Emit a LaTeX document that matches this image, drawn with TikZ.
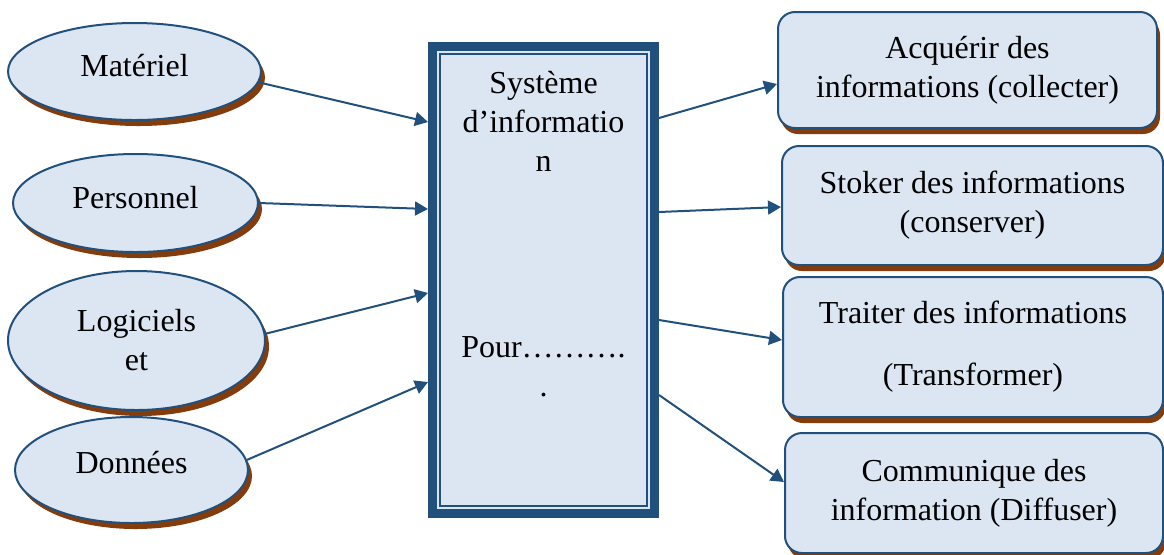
\documentclass[tikz,border=0pt]{standalone}
\usepackage{fontspec}
\setmainfont{Liberation Serif}
\usetikzlibrary{shapes.geometric,shadows,arrows.meta}

\definecolor{sibleu}{RGB}{33,80,125}
\definecolor{sifond}{RGB}{220,230,242}
\definecolor{siombre}{RGB}{132,60,12}

\newcommand{\sitexte}{\fontsize{16pt}{19.5pt}\selectfont}

\begin{document}
\begin{tikzpicture}[x=0.5pt,y=-0.5pt,
		ressource/.style={ellipse,draw=sibleu,line width=1pt,fill=sifond,align=center,font=\sitexte,
			drop shadow={shadow xshift=2pt,shadow yshift=-3pt,fill=siombre,opacity=1}},
		fonction/.style={rectangle,rounded corners=8.5pt,draw=sibleu,line width=1pt,fill=sifond,align=center,font=\sitexte,
			drop shadow={shadow xshift=1.5pt,shadow yshift=-3pt,fill=siombre,opacity=1}},
		fleche/.style={draw=sibleu,line width=1pt,-{Triangle[length=6.5pt,width=7pt]}}]
			
			\useasboundingbox (0,0) rectangle (1164,554);
			
			% les ressources
			\node[ressource,minimum width=126.5pt,minimum height=48.5pt,text depth=6pt] (mat) at (134.5,71.5) {Matériel};
			\node[ressource,minimum width=122.5pt,minimum height=49pt,text depth=6pt] (per) at (135.5,203) {Personnel};
			\node[ressource,minimum width=128.5pt,minimum height=69.5pt] (log) at (136.5,340.5) {Logiciels\\et};
			\node[ressource,minimum width=116.5pt,minimum height=53pt,text depth=8pt] (don) at (131.5,470) {Données};
			
			% le systeme
			\node[draw=sibleu,line width=4.5pt,fill=sifond,minimum width=111pt,minimum height=233.5pt] (sys) at (543.5,280) {};
			\draw[sibleu,line width=1.2pt] ([shift={(12,12)}]sys.north west) rectangle ([shift={(-12,-12)}]sys.south east);
			\node[anchor=north,align=center,inner sep=0pt,font=\sitexte] (titre) at ([yshift=-14.5pt]sys.north) {Système\\d’informatio\\n};
			\node[anchor=north,align=center,inner sep=0pt,font=\sitexte] (pour) at ([yshift=-147pt]sys.north) {Pour……….\\.};
			
			% les fonctions
			\node[fonction,minimum width=189.5pt,minimum height=58pt] (acq) at (967.5,70) {Acquérir des\\informations (collecter)};
			\node[fonction,minimum width=190.5pt,minimum height=59.5pt] (sto) at (972.5,205.5) {Stoker des informations\\(conserver)};
			\node[fonction,minimum width=190pt,minimum height=70pt] (tra) at (973,347) {Traiter des informations\\[11.5pt](Transformer)};
			\node[fonction,minimum width=189pt,minimum height=60pt] (com) at (974,493) {Communique des\\information (Diffuser)};
			
			\draw[fleche] (mat.-5) -- ([yshift=79pt]sys.west);
			\draw[fleche] (per.east) -- ([yshift=35.5pt]sys.west);
			\draw[fleche] (log.3) -- ([yshift=-6.5pt]sys.west);
			\draw[fleche] (don.5) -- ([yshift=-51pt]sys.west);
			
			\draw[fleche] ([yshift=81pt]sys.east) -- ([yshift=-7pt]acq.west);
			\draw[fleche] ([yshift=34pt]sys.east) -- ([yshift=-0.75pt]sto.west);
			\draw[fleche] ([yshift=-20pt]sys.east) -- ([yshift=3.5pt]tra.west);
			\draw[fleche] ([yshift=-57.5pt]sys.east) -- ([yshift=5.5pt]com.west);
			
		\end{tikzpicture}
\end{document}
